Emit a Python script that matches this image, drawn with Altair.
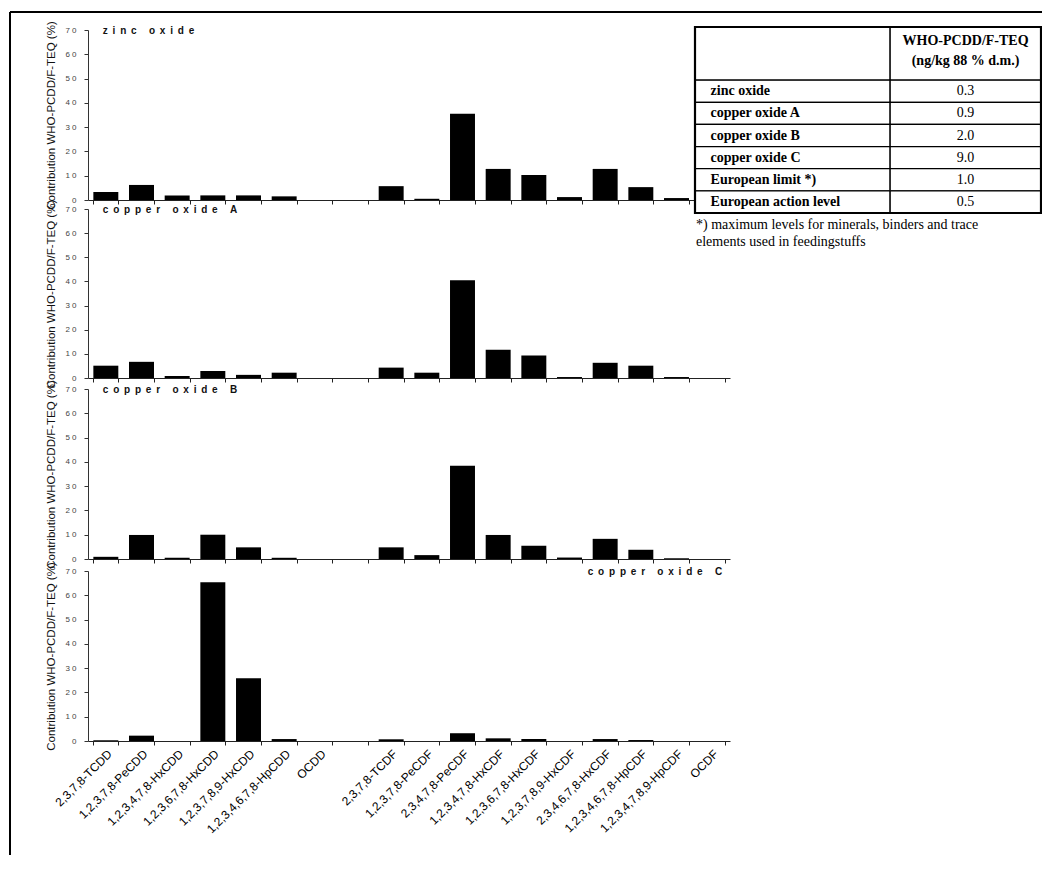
import altair as alt
import pandas as pd

# ---------------- data ----------------
dioxins = ["2,3,7,8-TCDD", "1,2,3,7,8-PeCDD", "1,2,3,4,7,8-HxCDD", "1,2,3,6,7,8-HxCDD",
           "1,2,3,7,8,9-HxCDD", "1,2,3,4,6,7,8-HpCDD", "OCDD"]
furans = ["2,3,7,8-TCDF", "1,2,3,7,8-PeCDF", "2,3,4,7,8-PeCDF", "1,2,3,4,7,8-HxCDF",
          "1,2,3,6,7,8-HxCDF", "1,2,3,7,8,9-HxCDF", "2,3,4,6,7,8-HxCDF",
          "1,2,3,4,6,7,8-HpCDF", "1,2,3,4,7,8,9-HpCDF", "OCDF"]
GAP = " "
categories = dioxins + [GAP] + furans

panel_names = ["zinc oxide", "copper oxide A", "copper oxide B", "copper oxide C"]

zinc_dioxins = [3.3, 6.2, 1.9, 1.9, 1.9, 1.5, 0.0]
zinc_furans = [5.7, 0.5, 35.5, 12.8, 10.3, 1.2, 12.8, 5.3, 0.8, 0.0]
cuA_dioxins = [5.1, 6.7, 0.8, 2.9, 1.3, 2.2, 0.0]
cuA_furans = [4.3, 2.2, 40.5, 11.7, 9.3, 0.4, 6.3, 5.1, 0.4, 0.0]
cuB_dioxins = [0.9, 9.9, 0.5, 10.0, 4.8, 0.5, 0.0]
cuB_furans = [4.8, 1.6, 38.4, 9.9, 5.5, 0.6, 8.3, 3.8, 0.3, 0.0]
cuC_dioxins = [0.3, 2.2, 0.0, 65.4, 25.8, 0.8, 0.0]
cuC_furans = [0.7, 0.0, 3.2, 1.1, 0.8, 0.0, 0.8, 0.4, 0.0, 0.0]

panel_values = [
    (zinc_dioxins, zinc_furans),
    (cuA_dioxins, cuA_furans),
    (cuB_dioxins, cuB_furans),
    (cuC_dioxins, cuC_furans),
]

y_ticks = [0, 10, 20, 30, 40, 50, 60, 70]
y_title = "Contribution WHO-PCDD/F-TEQ (%)"

table_rows = ["zinc oxide", "copper oxide A", "copper oxide B", "copper oxide C",
              "European limit *)", "European action level"]
table_values = ["0.3", "0.9", "2.0", "9.0", "1.0", "0.5"]
table_header = ["WHO-PCDD/F-TEQ", "(ng/kg 88 % d.m.)"]
footnote = ["*) maximum levels for minerals, binders and trace",
            "elements used in feedingstuffs"]

# ---------------- layout (scale ranges, px inside view) ----------------
VIEW_W, VIEW_H = 1032, 843
X_RANGE = [78, 720]
PANEL_RANGES = [(188, 18), (366, 197), (547, 377), (729, 559)]
TABLE_X_RANGE = [685, 1031]
TABLE_Y_RANGE = [15, 201]
HEADER_UNITS = 2.4
COL_SPLIT = 0.564

SANS = "Liberation Sans, Arial, sans-serif"
SERIF = "Liberation Serif, Times New Roman, serif"


def spaced(s):
    return "\u2009\u00a0".join(s)


def panel(i):
    d_vals, f_vals = panel_values[i]
    df = pd.DataFrame({
        "congener": dioxins + furans,
        "value": d_vals + f_vals,
    })
    bottom, top = PANEL_RANGES[i]
    last = i == 3
    xscale = alt.Scale(domain=categories, range=X_RANGE, paddingInner=0.3, paddingOuter=0.15)
    yscale = alt.Scale(domain=[0, 70], range=[bottom, top], nice=False, zero=True)
    xaxis = alt.Axis(
        orient="bottom", offset=bottom - VIEW_H, title=None, tickBand="extent",
        labels=last, labelAngle=-45, labelFontSize=12, labelFont=SANS,
        labelColor="#000", labelPadding=3, labelOverlap=False,
        domainColor="#222", tickColor="#222", tickSize=4, grid=False,
    )
    yaxis = alt.Axis(
        orient="left", offset=-X_RANGE[0], values=y_ticks, grid=False,
        labelExpr="datum.value >= 10 ? floor(datum.value / 10) + ' ' + (datum.value % 10) : datum.label",
        labelFontSize=8, labelFont=SANS, labelColor="#444", labelPadding=8,
        tickSize=4, tickColor="#333", domainColor="#333",
        title=y_title, titleFont=SANS, titleFontSize=11.5, titleFontWeight="normal",
        titleColor="#111", titlePadding=8,
    )
    bars = alt.Chart(df).mark_bar(color="black").encode(
        x=alt.X("congener:N", scale=xscale, axis=xaxis, sort=None),
        y=alt.Y("value:Q", scale=yscale, axis=yaxis),
    )
    anchor = furans[-1] if last else dioxins[0]
    tdf = pd.DataFrame({"congener": [anchor], "value": [70], "label": [spaced(panel_names[i])]})
    title = alt.Chart(tdf).mark_text(
        align="right" if last else "left", baseline="middle",
        dx=10 if last else -3, dy=1,
        font=SANS, fontSize=10, fontWeight="bold", color="#111",
    ).encode(
        x=alt.X("congener:N", scale=xscale, sort=None),
        y=alt.Y("value:Q", scale=yscale),
        text="label:N",
    )
    return alt.layer(bars, title)


# ---------------- table ----------------
cells = [
    {"x": 0, "x2": COL_SPLIT, "y": 0, "y2": HEADER_UNITS},
    {"x": COL_SPLIT, "x2": 1, "y": 0, "y2": HEADER_UNITS},
]
for r in range(len(table_rows)):
    y0 = HEADER_UNITS + r
    cells.append({"x": 0, "x2": COL_SPLIT, "y": y0, "y2": y0 + 1})
    cells.append({"x": COL_SPLIT, "x2": 1, "y": y0, "y2": y0 + 1})
cells_df = pd.DataFrame(cells)
total_units = HEADER_UNITS + len(table_rows)

tx = alt.Scale(domain=[0, 1], range=TABLE_X_RANGE, nice=False, zero=False)
ty = alt.Scale(domain=[0, total_units], range=TABLE_Y_RANGE, nice=False, zero=False)

cell_layer = alt.Chart(cells_df).mark_rect(fill="white", stroke="black", strokeWidth=1.3).encode(
    x=alt.X("x:Q", scale=tx, axis=None), x2="x2:Q",
    y=alt.Y("y:Q", scale=ty, axis=None), y2="y2:Q",
)
outer_layer = alt.Chart(pd.DataFrame({"x": [0], "x2": [1], "y": [0], "y2": [total_units]})).mark_rect(
    fillOpacity=0, stroke="black", strokeWidth=2.2
).encode(
    x=alt.X("x:Q", scale=tx, axis=None), x2="x2:Q",
    y=alt.Y("y:Q", scale=ty, axis=None), y2="y2:Q",
)

header_df = pd.DataFrame({"t": table_header, "x": [(COL_SPLIT + 1) / 2] * 2, "y": [0.62, 1.55]})
header_layer = alt.Chart(header_df).mark_text(
    font=SERIF, fontSize=14, fontWeight="bold", color="black", align="center", baseline="middle"
).encode(x=alt.X("x:Q", scale=tx, axis=None), y=alt.Y("y:Q", scale=ty, axis=None), text="t:N")

rows_df = pd.DataFrame({
    "name": table_rows,
    "val": table_values,
    "y": [HEADER_UNITS + r + 0.5 for r in range(len(table_rows))],
    "xl": [0.045] * len(table_rows),
    "xv": [(COL_SPLIT + 1) / 2] * len(table_rows),
})
row_names = alt.Chart(rows_df).mark_text(
    font=SERIF, fontSize=14, fontWeight="bold", color="black", align="left", baseline="middle"
).encode(x=alt.X("xl:Q", scale=tx, axis=None), y=alt.Y("y:Q", scale=ty, axis=None), text="name:N")
row_vals = alt.Chart(rows_df).mark_text(
    font=SERIF, fontSize=14, color="black", align="center", baseline="middle"
).encode(x=alt.X("xv:Q", scale=tx, axis=None), y=alt.Y("y:Q", scale=ty, axis=None), text="val:N")

foot_df = pd.DataFrame({"t": footnote, "x": [0.0, 0.0], "y": [total_units + 0.55, total_units + 1.3]})
foot_layer = alt.Chart(foot_df).mark_text(
    font=SERIF, fontSize=14, color="black", align="left", baseline="middle", dx=1
).encode(x=alt.X("x:Q", scale=tx, axis=None), y=alt.Y("y:Q", scale=ty, axis=None), text="t:N")

table = alt.layer(cell_layer, outer_layer, header_layer, row_names, row_vals, foot_layer)

# outer frame: only the top and left edges fall inside the picture
frame_top = alt.Chart().mark_rule(color="black", strokeWidth=2).encode(
    x=alt.value(0), x2=alt.value(VIEW_W), y=alt.value(0)
)
frame_left = alt.Chart().mark_rule(color="black", strokeWidth=2).encode(
    x=alt.value(0), y=alt.value(0), y2=alt.value(VIEW_H)
)

chart = alt.layer(
    panel(0), panel(1), panel(2), panel(3), table, frame_top, frame_left
).resolve_scale(
    x="independent", y="independent"
).properties(
    width=VIEW_W, height=VIEW_H,
    autosize=alt.AutoSizeParams(type="none"),
    padding={"left": 2, "top": 4, "right": 0, "bottom": 0},
    background="white",
).configure_view(
    stroke=None
)

chart.save("out.html", embed_options={"renderer": "svg", "actions": False})
